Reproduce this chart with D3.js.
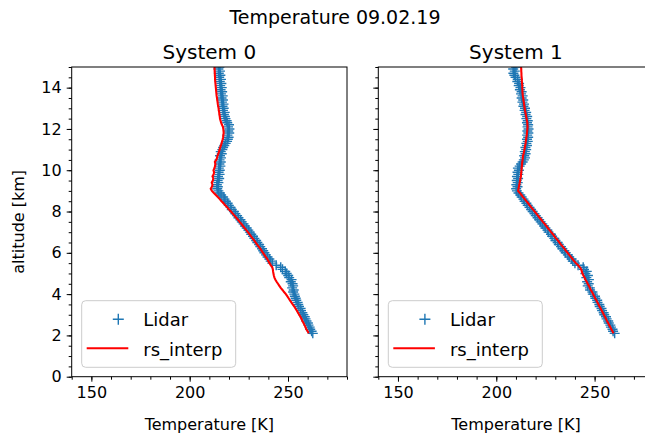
<!DOCTYPE html>
<html>
<head>
<meta charset="utf-8">
<script src="https://cdn.jsdelivr.net/npm/d3@7"></script>
<style>
  body { margin: 0; background: #fff; }
  svg { font-family: "DejaVu Sans", sans-serif; }
</style>
</head>
<body>
<svg id="chart" width="645" height="439"></svg>
<script>
// lidar gates / interpolation grid (km)
const altitudeKm = [
  2.1, 2.2, 2.3, 2.4, 2.5, 2.6, 2.7, 2.8, 2.9, 3.0,
  3.1, 3.2, 3.3, 3.4, 3.5, 3.6, 3.7, 3.8, 3.9, 4.0,
  4.1, 4.2, 4.3, 4.4, 4.5, 4.6, 4.7, 4.8, 4.9, 5.0,
  5.1, 5.2, 5.3, 5.4, 5.5, 5.6, 5.7, 5.8, 5.9, 6.0,
  6.1, 6.2, 6.3, 6.4, 6.5, 6.6, 6.7, 6.8, 6.9, 7.0,
  7.1, 7.2, 7.3, 7.4, 7.5, 7.6, 7.7, 7.8, 7.9, 8.0,
  8.1, 8.2, 8.3, 8.4, 8.5, 8.6, 8.7, 8.8, 8.9, 9.0,
  9.1, 9.2, 9.3, 9.4, 9.5, 9.6, 9.7, 9.8, 9.9, 10.0,
  10.1, 10.2, 10.3, 10.4, 10.5, 10.6, 10.7, 10.8, 10.9, 11.0,
  11.1, 11.2, 11.3, 11.4, 11.5, 11.6, 11.7, 11.8, 11.9, 12.0,
  12.1, 12.2, 12.3, 12.4, 12.5, 12.6, 12.7, 12.8, 12.9, 13.0,
  13.1, 13.2, 13.3, 13.4, 13.5, 13.6, 13.7, 13.8, 13.9, 14.0,
  14.1, 14.2, 14.3, 14.4, 14.5, 14.6, 14.7, 14.8, 14.9, 15.0
];

const lidarSys0 = [
  262.6, 262.0, 261.3, 261.0, 260.4, 260.1, 259.4, 258.9, 258.5, 257.8,
  257.3, 256.6, 256.4, 255.6, 255.2, 254.9, 254.2, 253.9, 253.5, 253.2,
  252.6, 252.9, 252.1, 252.6, 252.3, 251.4, 251.8, 250.6, 250.1, 249.3,
  248.6, 247.2, 246.3, 244.0, 242.0, 241.2, 240.5, 239.6, 238.8, 238.0,
  237.4, 236.8, 235.9, 235.3, 234.4, 233.8, 232.9, 232.2, 231.3, 230.6,
  229.8, 229.0, 228.1, 227.4, 226.5, 225.8, 224.8, 224.1, 223.2, 222.5,
  221.4, 220.8, 219.9, 219.3, 218.4, 217.7, 217.0, 216.0, 215.4, 214.6,
  214.0, 214.3, 213.8, 214.6, 214.2, 215.0, 214.4, 215.2, 214.7, 215.3,
  214.8, 215.6, 215.1, 215.8, 215.2, 215.9, 215.4, 216.3, 215.8, 216.6,
  217.0, 217.6, 218.3, 219.0, 219.4, 219.8, 219.2, 220.1, 219.6, 220.2,
  219.5, 220.0, 219.1, 218.8, 218.2, 217.9, 217.4, 217.8, 216.9, 217.3,
  216.7, 217.2, 216.4, 216.9, 216.2, 216.8, 215.9, 216.5, 215.7, 216.3,
  215.5, 216.1, 215.3, 215.9, 215.0, 215.6, 214.8, 215.4, 214.6, 215.1
];

const rsInterpSys0 = [
  260.5, 260.0, 259.3, 258.9, 258.4, 257.9, 257.3, 256.9, 256.3, 255.7,
  255.1, 254.5, 253.8, 253.2, 252.4, 251.7, 251.0, 250.3, 249.6, 248.9,
  248.0, 247.2, 246.3, 245.6, 244.9, 244.2, 243.6, 243.1, 242.8, 242.6,
  242.4, 242.3, 242.0, 241.2, 240.6, 240.0, 239.5, 238.7, 238.0, 237.3,
  236.6, 235.9, 235.1, 234.3, 233.5, 232.8, 232.0, 231.2, 230.4, 229.6,
  228.8, 228.0, 227.1, 226.3, 225.4, 224.6, 223.7, 222.8, 221.9, 221.0,
  220.0, 219.1, 218.1, 217.2, 216.2, 215.3, 214.3, 213.3, 212.3, 211.3,
  210.7, 211.3, 211.6, 211.2, 211.8, 212.0, 211.6, 212.2, 212.4, 212.1,
  212.6, 212.9, 213.1, 212.8, 213.5, 213.9, 214.1, 214.6, 214.9, 215.2,
  215.5, 215.9, 216.2, 216.5, 216.8, 217.0, 217.1, 217.3, 217.2, 217.1,
  216.9, 216.4, 216.0, 215.7, 215.4, 215.3, 215.1, 215.0, 214.8, 214.7,
  214.5, 214.3, 214.2, 214.0, 213.9, 213.7, 213.6, 213.5, 213.4, 213.3,
  213.2, 213.1, 213.0, 212.9, 212.9, 212.8, 212.8, 212.7, 212.7, 212.6
];

const lidarSys1 = [
  260.2, 259.4, 259.1, 258.3, 258.0, 257.2, 256.9, 256.1, 255.8, 254.9,
  254.6, 253.8, 253.5, 252.6, 252.4, 251.5, 251.3, 250.4, 250.2, 249.1,
  248.9, 247.7, 247.6, 246.5, 247.0, 246.2, 247.1, 245.8, 246.6, 245.3,
  246.0, 244.6, 244.2, 241.6, 240.0, 238.9, 238.3, 237.1, 236.4, 235.3,
  234.6, 233.6, 232.9, 231.8, 231.2, 230.1, 229.5, 228.4, 227.8, 226.6,
  226.0, 225.0, 224.3, 223.4, 222.6, 221.8, 221.0, 220.1, 219.4, 218.5,
  217.7, 216.9, 216.0, 215.3, 214.4, 213.8, 212.9, 212.2, 211.3, 210.5,
  210.1, 210.8, 210.2, 210.9, 210.4, 211.1, 210.5, 211.2, 210.8, 211.5,
  211.0, 211.9, 212.6, 213.4, 214.0, 214.6, 214.2, 214.9, 214.5, 215.2,
  214.8, 215.6, 215.3, 216.0, 215.6, 216.2, 215.7, 216.3, 215.8, 216.4,
  215.9, 216.2, 215.6, 216.0, 215.3, 215.7, 214.9, 215.2, 214.4, 214.6,
  213.8, 214.1, 213.3, 213.7, 212.9, 213.4, 212.6, 212.9, 212.0, 212.3,
  211.4, 211.6, 210.7, 210.9, 209.8, 209.2, 208.7, 209.4, 208.6, 210.0
];

const rsInterpSys1 = [
  259.6, 259.1, 258.5, 258.0, 257.4, 256.9, 256.3, 255.8, 255.3, 254.7,
  254.2, 253.6, 253.1, 252.5, 252.0, 251.4, 250.9, 250.3, 249.8, 249.2,
  248.7, 248.1, 247.6, 247.1, 246.5, 246.0, 245.4, 244.9, 244.3, 243.8,
  243.5, 243.2, 242.5, 241.6, 240.5, 239.6, 238.8, 237.9, 237.1, 236.3,
  235.4, 234.6, 233.8, 232.9, 232.1, 231.3, 230.4, 229.6, 228.8, 227.9,
  227.1, 226.2, 225.4, 224.6, 223.7, 222.9, 222.0, 221.2, 220.4, 219.5,
  218.7, 217.8, 217.0, 216.2, 215.3, 214.5, 213.6, 212.8, 212.0, 211.1,
  211.3, 211.5, 211.7, 211.9, 212.1, 212.3, 212.5, 212.6, 212.7, 212.8,
  212.9, 213.0, 213.1, 213.2, 213.4, 213.5, 213.6, 213.9, 214.1, 214.3,
  214.5, 214.7, 214.9, 215.0, 215.2, 215.3, 215.5, 215.6, 215.7, 215.8,
  215.9, 215.8, 215.8, 215.6, 215.4, 215.2, 215.0, 214.8, 214.6, 214.4,
  214.3, 214.1, 214.0, 213.8, 213.7, 213.5, 213.4, 213.3, 213.3, 213.2,
  213.2, 213.1, 213.0, 213.0, 212.9, 212.8, 212.8, 212.7, 212.7, 212.6
];

const panelTitles = ["System 0", "System 1"];
const xTicks = [150, 200, 250];
const yTicks = [0, 2, 4, 6, 8, 10, 12, 14];
const legendLabels = ["Lidar", "rs_interp"];

const svg = d3.select("#chart");
const plotTop = 67, plotBottom = 376.7, panelW = 275.3;
const panelLefts = [71.7, 378.3];

svg.append("text")
  .attr("x", 335).attr("y", 24)
  .attr("text-anchor", "middle")
  .attr("font-size", 19)
  .text("Temperature 09.02.19");

const yScale = d3.scaleLinear().domain([0, 15]).range([plotBottom, plotTop]);

function drawPanel(i, lidar, rs) {
  const left = panelLefts[i];
  const x = d3.scaleLinear().domain([140, 280]).range([left, left + panelW]);
  const g = svg.append("g");

  g.append("clipPath").attr("id", `clip${i}`)
    .append("rect")
    .attr("x", left).attr("y", plotTop)
    .attr("width", panelW).attr("height", plotBottom - plotTop);

  const plot = g.append("g").attr("clip-path", `url(#clip${i})`);

  plot.selectAll("path.plus")
    .data(altitudeKm)
    .join("path")
    .attr("class", "plus")
    .attr("d", (a, j) => {
      const px = x(lidar[j]), py = yScale(a);
      return `M${px - 5},${py}H${px + 5}M${px},${py - 5}V${py + 5}`;
    })
    .attr("stroke", "#1f77b4")
    .attr("stroke-width", 1.4)
    .attr("fill", "none");

  const line = d3.line()
    .x((a, j) => x(rs[j]))
    .y(a => yScale(a));
  plot.append("path")
    .attr("d", line(altitudeKm))
    .attr("fill", "none")
    .attr("stroke", "#ff0000")
    .attr("stroke-width", 2.1);

  // minor ticks
  g.append("g")
    .attr("transform", `translate(0,${plotBottom})`)
    .call(d3.axisBottom(x).tickValues(d3.range(140, 281, 10)).tickSize(3).tickFormat(""))
    .call(a => a.select(".domain").remove());
  g.append("g")
    .attr("transform", `translate(${left},0)`)
    .call(d3.axisLeft(yScale).tickValues(d3.range(0, 15.01, 0.5)).tickSize(3).tickFormat(""))
    .call(a => a.select(".domain").remove());

  const xAxis = g.append("g")
    .attr("transform", `translate(0,${plotBottom})`)
    .call(d3.axisBottom(x).tickValues(xTicks).tickSize(5).tickPadding(5));
  xAxis.select(".domain").remove();
  xAxis.selectAll("text").attr("font-size", 16).attr("fill", "#000")
    .attr("font-family", "DejaVu Sans");

  const yAxis = g.append("g")
    .attr("transform", `translate(${left},0)`)
    .call(d3.axisLeft(yScale).tickValues(yTicks).tickSize(5).tickPadding(5)
      .tickFormat(i === 0 ? d3.format("d") : ""));
  yAxis.select(".domain").remove();
  yAxis.selectAll("text").attr("font-size", 16).attr("fill", "#000")
    .attr("font-family", "DejaVu Sans");

  g.selectAll(".tick line").attr("stroke", "#000").attr("stroke-width", 1);

  g.append("rect")
    .attr("x", left).attr("y", plotTop)
    .attr("width", panelW).attr("height", plotBottom - plotTop)
    .attr("fill", "none").attr("stroke", "#000").attr("stroke-width", 1);

  g.append("text")
    .attr("x", left + panelW / 2).attr("y", 59)
    .attr("text-anchor", "middle").attr("font-size", 20)
    .text(panelTitles[i]);

  g.append("text")
    .attr("x", left + panelW / 2).attr("y", 430)
    .attr("text-anchor", "middle").attr("font-size", 16)
    .text("Temperature [K]");

  // legend
  const lg = g.append("g").attr("transform", `translate(${left + 10},${300.7})`);
  lg.append("rect")
    .attr("width", 154).attr("height", 66.6).attr("rx", 4)
    .attr("fill", "#fff").attr("fill-opacity", 0.8)
    .attr("stroke", "#cccccc").attr("stroke-width", 1);
  lg.append("path")
    .attr("d", "M31.1,18.6H42.1M36.6,13.1V24.1")
    .attr("stroke", "#1f77b4").attr("stroke-width", 1.4);
  lg.append("line")
    .attr("x1", 5).attr("x2", 46.6).attr("y1", 47.6).attr("y2", 47.6)
    .attr("stroke", "#ff0000").attr("stroke-width", 2.1);
  lg.selectAll("text.lab")
    .data(legendLabels)
    .join("text")
    .attr("class", "lab")
    .attr("x", 61.6)
    .attr("y", (d, k) => k === 0 ? 25.5 : 55)
    .attr("font-size", 18)
    .text(d => d);
}

drawPanel(0, lidarSys0, rsInterpSys0);
drawPanel(1, lidarSys1, rsInterpSys1);

svg.append("text")
  .attr("transform", `translate(24,${(plotTop + plotBottom) / 2}) rotate(-90)`)
  .attr("text-anchor", "middle")
  .attr("font-size", 16)
  .text("altitude [km]");
</script>
</body>
</html>
